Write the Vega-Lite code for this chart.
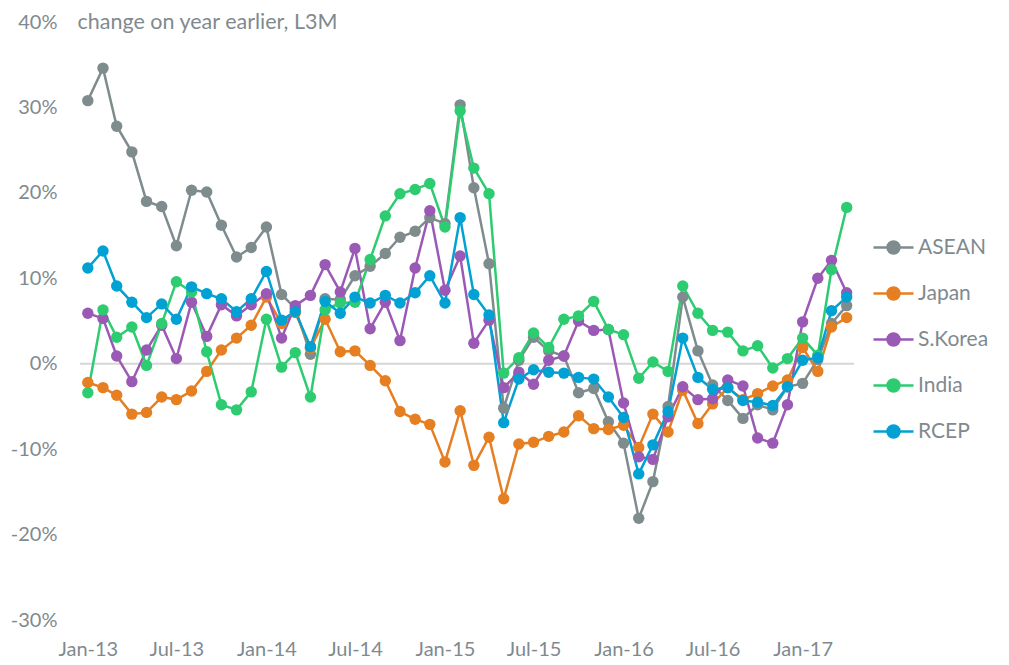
{
"$schema":"https://vega.github.io/schema/vega-lite/v6.json",
"width":774,"height":598,
"autosize":{"type":"none"},
"padding":{"left":80,"top":22,"right":155,"bottom":45},
"background":"white",
"config":{"view":{"stroke":null},"font":"Lato"},
"datasets":{
"series":[
{"d":"2013/01/01","s":"ASEAN","v":30.8},{"d":"2013/02/01","s":"ASEAN","v":34.6},{"d":"2013/03/01","s":"ASEAN","v":27.8},{"d":"2013/04/01","s":"ASEAN","v":24.8},{"d":"2013/05/01","s":"ASEAN","v":19.0},{"d":"2013/06/01","s":"ASEAN","v":18.4},{"d":"2013/07/01","s":"ASEAN","v":13.8},{"d":"2013/08/01","s":"ASEAN","v":20.3},{"d":"2013/09/01","s":"ASEAN","v":20.1},{"d":"2013/10/01","s":"ASEAN","v":16.2},{"d":"2013/11/01","s":"ASEAN","v":12.5},{"d":"2013/12/01","s":"ASEAN","v":13.6},
{"d":"2014/01/01","s":"ASEAN","v":16.0},{"d":"2014/02/01","s":"ASEAN","v":8.1},{"d":"2014/03/01","s":"ASEAN","v":6.5},{"d":"2014/04/01","s":"ASEAN","v":1.1},{"d":"2014/05/01","s":"ASEAN","v":7.6},{"d":"2014/06/01","s":"ASEAN","v":7.5},{"d":"2014/07/01","s":"ASEAN","v":10.3},{"d":"2014/08/01","s":"ASEAN","v":11.4},{"d":"2014/09/01","s":"ASEAN","v":12.9},{"d":"2014/10/01","s":"ASEAN","v":14.8},{"d":"2014/11/01","s":"ASEAN","v":15.5},{"d":"2014/12/01","s":"ASEAN","v":17.1},
{"d":"2015/01/01","s":"ASEAN","v":16.4},{"d":"2015/02/01","s":"ASEAN","v":30.3},{"d":"2015/03/01","s":"ASEAN","v":20.6},{"d":"2015/04/01","s":"ASEAN","v":11.7},{"d":"2015/05/01","s":"ASEAN","v":-5.2},{"d":"2015/06/01","s":"ASEAN","v":0.4},{"d":"2015/07/01","s":"ASEAN","v":3.1},{"d":"2015/08/01","s":"ASEAN","v":1.5},{"d":"2015/09/01","s":"ASEAN","v":0.9},{"d":"2015/10/01","s":"ASEAN","v":-3.4},{"d":"2015/11/01","s":"ASEAN","v":-2.9},{"d":"2015/12/01","s":"ASEAN","v":-6.8},
{"d":"2016/01/01","s":"ASEAN","v":-9.3},{"d":"2016/02/01","s":"ASEAN","v":-18.1},{"d":"2016/03/01","s":"ASEAN","v":-13.8},{"d":"2016/04/01","s":"ASEAN","v":-5.0},{"d":"2016/05/01","s":"ASEAN","v":7.8},{"d":"2016/06/01","s":"ASEAN","v":1.5},{"d":"2016/07/01","s":"ASEAN","v":-2.5},{"d":"2016/08/01","s":"ASEAN","v":-4.3},{"d":"2016/09/01","s":"ASEAN","v":-6.4},{"d":"2016/10/01","s":"ASEAN","v":-4.8},{"d":"2016/11/01","s":"ASEAN","v":-5.4},{"d":"2016/12/01","s":"ASEAN","v":-2.7},
{"d":"2017/01/01","s":"ASEAN","v":-2.3},{"d":"2017/02/01","s":"ASEAN","v":0.5},{"d":"2017/03/01","s":"ASEAN","v":4.7},{"d":"2017/04/01","s":"ASEAN","v":6.8},

{"d":"2013/01/01","s":"Japan","v":-2.2},{"d":"2013/02/01","s":"Japan","v":-2.8},{"d":"2013/03/01","s":"Japan","v":-3.7},{"d":"2013/04/01","s":"Japan","v":-5.9},{"d":"2013/05/01","s":"Japan","v":-5.7},{"d":"2013/06/01","s":"Japan","v":-3.9},{"d":"2013/07/01","s":"Japan","v":-4.2},{"d":"2013/08/01","s":"Japan","v":-3.2},{"d":"2013/09/01","s":"Japan","v":-0.9},{"d":"2013/10/01","s":"Japan","v":1.6},{"d":"2013/11/01","s":"Japan","v":3.0},{"d":"2013/12/01","s":"Japan","v":4.5},
{"d":"2014/01/01","s":"Japan","v":7.8},{"d":"2014/02/01","s":"Japan","v":4.7},{"d":"2014/03/01","s":"Japan","v":6.0},{"d":"2014/04/01","s":"Japan","v":1.8},{"d":"2014/05/01","s":"Japan","v":5.2},{"d":"2014/06/01","s":"Japan","v":1.4},{"d":"2014/07/01","s":"Japan","v":1.5},{"d":"2014/08/01","s":"Japan","v":-0.2},{"d":"2014/09/01","s":"Japan","v":-2.0},{"d":"2014/10/01","s":"Japan","v":-5.6},{"d":"2014/11/01","s":"Japan","v":-6.5},{"d":"2014/12/01","s":"Japan","v":-7.1},
{"d":"2015/01/01","s":"Japan","v":-11.5},{"d":"2015/02/01","s":"Japan","v":-5.5},{"d":"2015/03/01","s":"Japan","v":-11.9},{"d":"2015/04/01","s":"Japan","v":-8.6},{"d":"2015/05/01","s":"Japan","v":-15.8},{"d":"2015/06/01","s":"Japan","v":-9.4},{"d":"2015/07/01","s":"Japan","v":-9.2},{"d":"2015/08/01","s":"Japan","v":-8.5},{"d":"2015/09/01","s":"Japan","v":-8.0},{"d":"2015/10/01","s":"Japan","v":-6.1},{"d":"2015/11/01","s":"Japan","v":-7.6},{"d":"2015/12/01","s":"Japan","v":-7.7},
{"d":"2016/01/01","s":"Japan","v":-7.2},{"d":"2016/02/01","s":"Japan","v":-9.8},{"d":"2016/03/01","s":"Japan","v":-5.9},{"d":"2016/04/01","s":"Japan","v":-8.0},{"d":"2016/05/01","s":"Japan","v":-3.1},{"d":"2016/06/01","s":"Japan","v":-7.0},{"d":"2016/07/01","s":"Japan","v":-4.7},{"d":"2016/08/01","s":"Japan","v":-2.8},{"d":"2016/09/01","s":"Japan","v":-4.2},{"d":"2016/10/01","s":"Japan","v":-3.5},{"d":"2016/11/01","s":"Japan","v":-2.6},{"d":"2016/12/01","s":"Japan","v":-1.9},
{"d":"2017/01/01","s":"Japan","v":1.9},{"d":"2017/02/01","s":"Japan","v":-0.9},{"d":"2017/03/01","s":"Japan","v":4.3},{"d":"2017/04/01","s":"Japan","v":5.4},

{"d":"2013/01/01","s":"S.Korea","v":5.9},{"d":"2013/02/01","s":"S.Korea","v":5.3},{"d":"2013/03/01","s":"S.Korea","v":0.9},{"d":"2013/04/01","s":"S.Korea","v":-2.1},{"d":"2013/05/01","s":"S.Korea","v":1.6},{"d":"2013/06/01","s":"S.Korea","v":4.5},{"d":"2013/07/01","s":"S.Korea","v":0.6},{"d":"2013/08/01","s":"S.Korea","v":7.2},{"d":"2013/09/01","s":"S.Korea","v":3.2},{"d":"2013/10/01","s":"S.Korea","v":6.9},{"d":"2013/11/01","s":"S.Korea","v":5.6},{"d":"2013/12/01","s":"S.Korea","v":6.9},
{"d":"2014/01/01","s":"S.Korea","v":8.2},{"d":"2014/02/01","s":"S.Korea","v":3.0},{"d":"2014/03/01","s":"S.Korea","v":6.8},{"d":"2014/04/01","s":"S.Korea","v":8.0},{"d":"2014/05/01","s":"S.Korea","v":11.6},{"d":"2014/06/01","s":"S.Korea","v":8.4},{"d":"2014/07/01","s":"S.Korea","v":13.5},{"d":"2014/08/01","s":"S.Korea","v":4.1},{"d":"2014/09/01","s":"S.Korea","v":7.2},{"d":"2014/10/01","s":"S.Korea","v":2.7},{"d":"2014/11/01","s":"S.Korea","v":11.2},{"d":"2014/12/01","s":"S.Korea","v":17.9},
{"d":"2015/01/01","s":"S.Korea","v":8.6},{"d":"2015/02/01","s":"S.Korea","v":12.6},{"d":"2015/03/01","s":"S.Korea","v":2.4},{"d":"2015/04/01","s":"S.Korea","v":5.1},{"d":"2015/05/01","s":"S.Korea","v":-2.8},{"d":"2015/06/01","s":"S.Korea","v":-1.0},{"d":"2015/07/01","s":"S.Korea","v":-2.4},{"d":"2015/08/01","s":"S.Korea","v":0.4},{"d":"2015/09/01","s":"S.Korea","v":0.9},{"d":"2015/10/01","s":"S.Korea","v":5.0},{"d":"2015/11/01","s":"S.Korea","v":3.9},{"d":"2015/12/01","s":"S.Korea","v":4.0},
{"d":"2016/01/01","s":"S.Korea","v":-4.6},{"d":"2016/02/01","s":"S.Korea","v":-10.9},{"d":"2016/03/01","s":"S.Korea","v":-11.2},{"d":"2016/04/01","s":"S.Korea","v":-6.2},{"d":"2016/05/01","s":"S.Korea","v":-2.7},{"d":"2016/06/01","s":"S.Korea","v":-4.2},{"d":"2016/07/01","s":"S.Korea","v":-4.1},{"d":"2016/08/01","s":"S.Korea","v":-1.9},{"d":"2016/09/01","s":"S.Korea","v":-2.6},{"d":"2016/10/01","s":"S.Korea","v":-8.7},{"d":"2016/11/01","s":"S.Korea","v":-9.3},{"d":"2016/12/01","s":"S.Korea","v":-4.8},
{"d":"2017/01/01","s":"S.Korea","v":4.9},{"d":"2017/02/01","s":"S.Korea","v":10.0},{"d":"2017/03/01","s":"S.Korea","v":12.1},{"d":"2017/04/01","s":"S.Korea","v":8.3},

{"d":"2013/01/01","s":"India","v":-3.4},{"d":"2013/02/01","s":"India","v":6.3},{"d":"2013/03/01","s":"India","v":3.1},{"d":"2013/04/01","s":"India","v":4.3},{"d":"2013/05/01","s":"India","v":-0.2},{"d":"2013/06/01","s":"India","v":4.7},{"d":"2013/07/01","s":"India","v":9.6},{"d":"2013/08/01","s":"India","v":8.4},{"d":"2013/09/01","s":"India","v":1.4},{"d":"2013/10/01","s":"India","v":-4.8},{"d":"2013/11/01","s":"India","v":-5.4},{"d":"2013/12/01","s":"India","v":-3.3},
{"d":"2014/01/01","s":"India","v":5.2},{"d":"2014/02/01","s":"India","v":-0.4},{"d":"2014/03/01","s":"India","v":1.3},{"d":"2014/04/01","s":"India","v":-3.9},{"d":"2014/05/01","s":"India","v":6.3},{"d":"2014/06/01","s":"India","v":7.1},{"d":"2014/07/01","s":"India","v":7.2},{"d":"2014/08/01","s":"India","v":12.2},{"d":"2014/09/01","s":"India","v":17.3},{"d":"2014/10/01","s":"India","v":19.9},{"d":"2014/11/01","s":"India","v":20.4},{"d":"2014/12/01","s":"India","v":21.1},
{"d":"2015/01/01","s":"India","v":16.0},{"d":"2015/02/01","s":"India","v":29.6},{"d":"2015/03/01","s":"India","v":22.9},{"d":"2015/04/01","s":"India","v":19.9},{"d":"2015/05/01","s":"India","v":-1.1},{"d":"2015/06/01","s":"India","v":0.7},{"d":"2015/07/01","s":"India","v":3.6},{"d":"2015/08/01","s":"India","v":1.9},{"d":"2015/09/01","s":"India","v":5.2},{"d":"2015/10/01","s":"India","v":5.6},{"d":"2015/11/01","s":"India","v":7.3},{"d":"2015/12/01","s":"India","v":4.0},
{"d":"2016/01/01","s":"India","v":3.4},{"d":"2016/02/01","s":"India","v":-1.7},{"d":"2016/03/01","s":"India","v":0.2},{"d":"2016/04/01","s":"India","v":-0.9},{"d":"2016/05/01","s":"India","v":9.1},{"d":"2016/06/01","s":"India","v":5.9},{"d":"2016/07/01","s":"India","v":3.9},{"d":"2016/08/01","s":"India","v":3.7},{"d":"2016/09/01","s":"India","v":1.5},{"d":"2016/10/01","s":"India","v":2.1},{"d":"2016/11/01","s":"India","v":-0.5},{"d":"2016/12/01","s":"India","v":0.6},
{"d":"2017/01/01","s":"India","v":3.0},{"d":"2017/02/01","s":"India","v":1.0},{"d":"2017/03/01","s":"India","v":11.0},{"d":"2017/04/01","s":"India","v":18.3},

{"d":"2013/01/01","s":"RCEP","v":11.2},{"d":"2013/02/01","s":"RCEP","v":13.2},{"d":"2013/03/01","s":"RCEP","v":9.1},{"d":"2013/04/01","s":"RCEP","v":7.2},{"d":"2013/05/01","s":"RCEP","v":5.4},{"d":"2013/06/01","s":"RCEP","v":7.0},{"d":"2013/07/01","s":"RCEP","v":5.2},{"d":"2013/08/01","s":"RCEP","v":9.0},{"d":"2013/09/01","s":"RCEP","v":8.2},{"d":"2013/10/01","s":"RCEP","v":7.6},{"d":"2013/11/01","s":"RCEP","v":6.1},{"d":"2013/12/01","s":"RCEP","v":7.6},
{"d":"2014/01/01","s":"RCEP","v":10.8},{"d":"2014/02/01","s":"RCEP","v":5.1},{"d":"2014/03/01","s":"RCEP","v":6.1},{"d":"2014/04/01","s":"RCEP","v":2.0},{"d":"2014/05/01","s":"RCEP","v":7.3},{"d":"2014/06/01","s":"RCEP","v":5.9},{"d":"2014/07/01","s":"RCEP","v":7.8},{"d":"2014/08/01","s":"RCEP","v":7.1},{"d":"2014/09/01","s":"RCEP","v":8.0},{"d":"2014/10/01","s":"RCEP","v":7.1},{"d":"2014/11/01","s":"RCEP","v":8.3},{"d":"2014/12/01","s":"RCEP","v":10.3},
{"d":"2015/01/01","s":"RCEP","v":7.1},{"d":"2015/02/01","s":"RCEP","v":17.1},{"d":"2015/03/01","s":"RCEP","v":8.1},{"d":"2015/04/01","s":"RCEP","v":5.7},{"d":"2015/05/01","s":"RCEP","v":-6.9},{"d":"2015/06/01","s":"RCEP","v":-1.8},{"d":"2015/07/01","s":"RCEP","v":-0.7},{"d":"2015/08/01","s":"RCEP","v":-1.0},{"d":"2015/09/01","s":"RCEP","v":-1.1},{"d":"2015/10/01","s":"RCEP","v":-1.6},{"d":"2015/11/01","s":"RCEP","v":-1.8},{"d":"2015/12/01","s":"RCEP","v":-3.9},
{"d":"2016/01/01","s":"RCEP","v":-6.3},{"d":"2016/02/01","s":"RCEP","v":-12.9},{"d":"2016/03/01","s":"RCEP","v":-9.5},{"d":"2016/04/01","s":"RCEP","v":-5.6},{"d":"2016/05/01","s":"RCEP","v":3.0},{"d":"2016/06/01","s":"RCEP","v":-1.6},{"d":"2016/07/01","s":"RCEP","v":-3.0},{"d":"2016/08/01","s":"RCEP","v":-2.8},{"d":"2016/09/01","s":"RCEP","v":-4.3},{"d":"2016/10/01","s":"RCEP","v":-4.5},{"d":"2016/11/01","s":"RCEP","v":-4.9},{"d":"2016/12/01","s":"RCEP","v":-2.7},
{"d":"2017/01/01","s":"RCEP","v":0.4},{"d":"2017/02/01","s":"RCEP","v":0.7},{"d":"2017/03/01","s":"RCEP","v":6.2},{"d":"2017/04/01","s":"RCEP","v":7.8}
],
"zero":[{"z":0}]
},
"layer":[
{"data":{"name":"zero"},
 "mark":{"type":"rule","color":"#d6d6d6","strokeWidth":2},
 "encoding":{"y":{"datum":0,"type":"quantitative"}}},
{"data":{"name":"series"},
 "mark":{"type":"line","strokeWidth":2.5},
 "encoding":{
  "x":{"field":"d","type":"temporal",
   "scale":{"domain":[{"year":2012,"month":12,"date":16},{"year":2017,"month":4,"date":16}]},
   "axis":{"values":[{"year":2013,"month":1,"date":1},{"year":2013,"month":7,"date":1},{"year":2014,"month":1,"date":1},{"year":2014,"month":7,"date":1},{"year":2015,"month":1,"date":1},{"year":2015,"month":7,"date":1},{"year":2016,"month":1,"date":1},{"year":2016,"month":7,"date":1},{"year":2017,"month":1,"date":1}],
    "format":"%b-%y","title":null,"grid":false,"ticks":false,"domain":false,
    "labelFontSize":20,"labelColor":"#7f8a90","labelPadding":19,"labelFlush":false,"labelOverlap":false,"labelFont":"Lato"}},
  "y":{"field":"v","type":"quantitative",
   "scale":{"domain":[-30,40],"nice":false,"zero":false},
   "axis":{"values":[-30,-20,-10,0,10,20,30,40],"labelExpr":"datum.value + '%'","grid":false,"ticks":false,"domain":false,
    "labelFontSize":20,"labelColor":"#7f8a90","labelPadding":23,"labelFont":"Lato",
    "title":"change on year earlier, L3M","titleAngle":0,"titleAlign":"left","titleBaseline":"middle","titleX":-3,"titleY":0,
    "titleFontSize":21.5,"titleFontWeight":"normal","titleColor":"#7f8a90","titleFont":"Lato"}},
  "color":{"field":"s","type":"nominal",
   "scale":{"domain":["ASEAN","Japan","S.Korea","India","RCEP"],"range":["#7f8c8d","#e67e22","#9b59b6","#2ecc71","#02a1d3"]},
   "legend":{"title":null,"orient":"none","legendX":792,"legendY":204,"padding":0,
    "symbolType":"M-1,0L1,0M-0.3,0A0.3,0.3,0,1,1,0.3,0A0.3,0.3,0,1,1,-0.3,0Z",
    "symbolSize":1600,"symbolStrokeWidth":2.5,"rowPadding":13,"labelOffset":3,
    "labelFontSize":21,"labelColor":"#7f8a90","labelFont":"Lato",
    "encode":{"symbols":{"update":{"fill":{"scale":"color","field":"value"},"stroke":{"scale":"color","field":"value"},"opacity":{"value":1}}}}}}
 }},
{"data":{"name":"series"},
 "mark":{"type":"point","filled":true,"size":130,"opacity":1},
 "encoding":{
  "x":{"field":"d","type":"temporal"},
  "y":{"field":"v","type":"quantitative"},
  "color":{"field":"s","type":"nominal"}
 }}
]
}
